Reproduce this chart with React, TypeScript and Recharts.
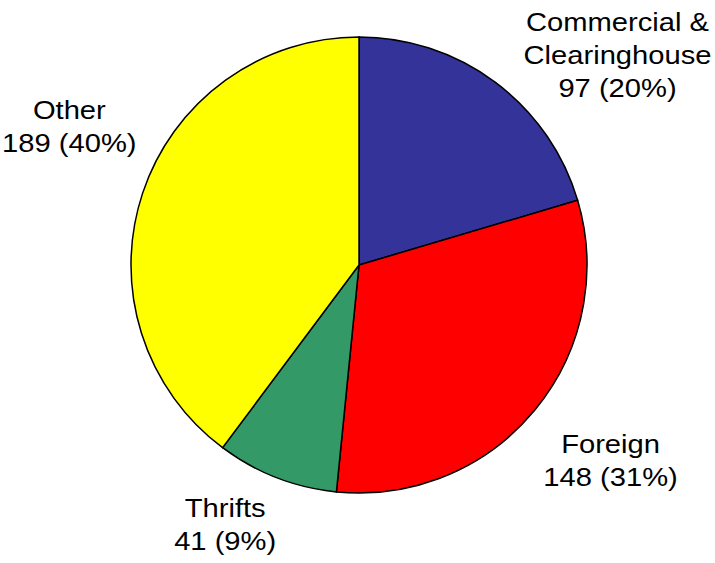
import React from 'react';
import { PieChart, Pie, Cell } from 'recharts';

// slice data, clockwise from 12 o'clock
const categories = ['Commercial &\nClearinghouse', 'Foreign', 'Thrifts', 'Other'];
const counts = [97, 148, 41, 189];
const colors = ['#333399', '#FF0000', '#339966', '#FFFF00'];

// nudges for the label blocks (relative to a radial spot), like Excel puts them
const labelShift: [number, number][] = [[67, 46], [5, -8], [-18, -38.5], [14, -37.5]];

const total = counts.reduce((a, b) => a + b, 0);
const data = categories.map((name, i) => ({ name, value: counts[i] }));

const RAD = Math.PI / 180;
const FONT = 26.5;
const LINE = 33;
const STRETCH = 1.1; // the original text is a bit wide

const renderLabel = (props: any) => {
  const { cx, cy, midAngle, outerRadius, index, name, value } = props;
  const r = outerRadius + 92;
  const [dx, dy] = labelShift[index];
  const x = cx + r * Math.cos(-midAngle * RAD) + dx;
  const y = cy + r * Math.sin(-midAngle * RAD) + dy;
  const lines = [...String(name).split('\n'), `${value} (${Math.round((value / total) * 100)}%)`];
  const n = lines.length;
  return (
    <text
      transform={`translate(${x} ${y}) scale(${STRETCH} 1)`}
      x={0}
      y={0}
      textAnchor="middle"
      fill="#000"
      fontSize={FONT}
      fontFamily="'Liberation Sans', Arial, sans-serif"
    >
      {lines.map((ln, i) => (
        <tspan key={i} x={0} y={(i - (n - 1) / 2) * LINE + 9}>
          {ln}
        </tspan>
      ))}
    </text>
  );
};

export default function App() {
  return (
    <div style={{ position: 'absolute', left: 0, top: 0, width: 715, height: 563, background: '#fff' }}>
      <PieChart width={715} height={563} margin={{ top: 0, right: 0, bottom: 0, left: 0 }}>
        <Pie
          data={data}
          dataKey="value"
          nameKey="name"
          cx={359}
          cy={265}
          outerRadius={228}
          startAngle={90}
          endAngle={-270}
          stroke="#000"
          strokeWidth={1.5}
          label={renderLabel}
          labelLine={false}
          isAnimationActive={false}
        >
          {data.map((d, i) => (
            <Cell key={d.name} fill={colors[i]} />
          ))}
        </Pie>
      </PieChart>
    </div>
  );
}
